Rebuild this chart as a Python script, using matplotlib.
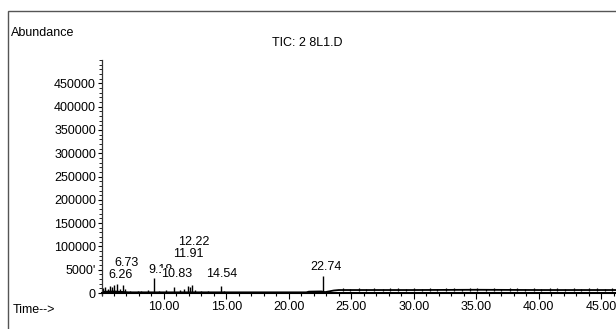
import matplotlib.pyplot as plt
from matplotlib.patches import Rectangle

plt.rcParams['font.family'] = ['Liberation Sans', 'DejaVu Sans']

# baseline of the TIC trace (time in min, abundance)
base_t = [5.0, 5.4, 6.0, 7.2, 10.0, 15.0, 21.4, 21.6, 22.6, 22.9, 23.2, 23.6, 24.0, 30.0, 35.0, 40.0, 46.5]
base_y = [2500, 3000, 3500, 1500, 1500, 1500, 1500, 3000, 3500, 2000, 3500, 5500, 6500, 6500, 7000, 6500, 6500]

# peaks and small spikes
peak_t = [5.1, 5.3, 5.5, 5.7, 5.85, 6.0, 6.26, 6.45, 6.73, 6.9, 7.3, 7.9, 8.2, 8.7,
          9.18, 9.6, 10.2, 10.83, 11.3, 11.6, 11.91, 12.05, 12.22, 12.5, 13.0, 13.5,
          14.54, 14.8, 22.74]
peak_h = [10000, 14000, 9000, 16000, 12000, 18000, 20000, 9000, 17000, 8000, 4000, 4500, 5000, 6000,
          32000, 5000, 6000, 14000, 6000, 8000, 16000, 12000, 18000, 7000, 5000, 4000,
          16000, 4000, 36000]

noise_t = [24.3, 24.9, 25.6, 26.2, 26.8, 27.5, 28.1, 28.7, 29.4, 30.0, 30.7, 31.3, 31.9,
           32.6, 33.2, 33.9, 34.5, 35.1, 35.8, 36.4, 37.0, 37.7, 38.3, 38.9, 39.6, 40.2,
           40.9, 41.5, 42.1, 42.8, 43.4, 44.0, 44.7, 45.3, 45.9]
noise_h = [10000, 9500, 11000, 9000, 10500, 9500, 10000, 11000, 9000, 10000, 9500, 10500, 9000,
           10000, 11000, 9500, 10500, 11500, 9000, 10000, 9500, 10500, 10000, 9000, 11000, 9500,
           10000, 10500, 9000, 10000, 9500, 11000, 10000, 9500, 10500]

label_txt = ["6.26", "6.73", "9.18", "10.83", "11.91", "12.22", "14.54", "22.74"]
label_x = [6.49, 6.97, 9.69, 11.05, 11.93, 12.41, 14.65, 22.98]
label_y = [38600, 64400, 49400, 40800, 83700, 109400, 40800, 55800]

ytick_vals = [0, 50000, 100000, 150000, 200000, 250000, 300000, 350000, 400000, 450000]
ytick_txt = ["0", "5000'", "100000", "150000", "200000", "250000", "300000", "350000", "400000", "450000"]
xtick_vals = [10, 15, 20, 25, 30, 35, 40, 45]
xtick_txt = ["10.00", "15.00", "20.00", "25.00", "30.00", "35.00", "40.00", "45.00"]

fig = plt.figure(figsize=(6.16, 3.29), dpi=100)
ax = fig.add_axes([0.1648, 0.1036, 0.8414, 0.714])

ax.plot(base_t, base_y, color="black", linewidth=1.3)
ax.vlines(peak_t, 0, peak_h, color="black", linewidth=1.0)
ax.vlines(noise_t, 4000, noise_h, color="black", linewidth=0.9)

for txt, x, y in zip(label_txt, label_x, label_y):
    ax.text(x, y, txt, ha="center", va="center", fontsize=9,
            bbox=dict(facecolor="white", edgecolor="none", pad=0.3))

ax.set_xlim(5.0, 46.5)
ax.set_ylim(-4000, 500000)
ax.set_xticks(xtick_vals)
ax.set_xticklabels(xtick_txt)
ax.set_xticks(range(5, 47), minor=True)
ax.set_yticks(ytick_vals)
ax.set_yticklabels(ytick_txt)
ax.set_yticks(range(0, 500001, 10000), minor=True)
ax.tick_params(axis="x", which="major", length=4, width=0.8, labelsize=9, pad=2)
ax.tick_params(axis="x", which="minor", length=2.5, width=0.8)
ax.tick_params(axis="y", which="major", length=3, width=0.8, labelsize=9, pad=1)
ax.tick_params(axis="y", which="minor", length=2, width=0.6)

for s in ["top", "right"]:
    ax.spines[s].set_visible(False)
ax.spines["left"].set_color("#333333")
ax.spines["left"].set_linewidth(0.9)
ax.spines["bottom"].set_position(("data", 0))
ax.spines["bottom"].set_linewidth(1.5)

# outer frame
fig.patches.append(Rectangle((8 / 616, -0.1), 1.2, 318 / 329 + 0.1, transform=fig.transFigure,
                             fill=False, edgecolor="#555555", linewidth=1.0))

fig.text(11 / 616, 1 - 33 / 329, "Abundance", fontsize=9, ha="left", va="center")
fig.text(307 / 616, 1 - 43 / 329, "TIC: 2 8L1.D", fontsize=9, ha="center", va="center")
fig.text(13 / 616, 1 - 310 / 329, "Time-->", fontsize=9, ha="left", va="center")

fig.savefig("out.png", dpi=100)
